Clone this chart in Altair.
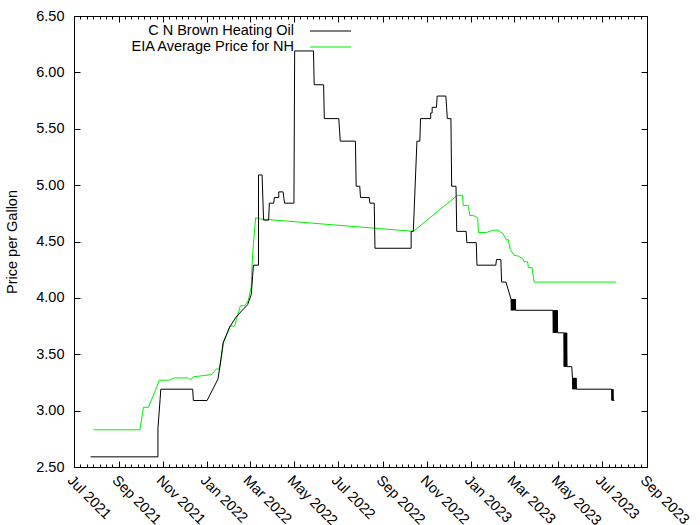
import altair as alt
import pandas as pd
import numpy as np

# ---- data ----
brown_dates = [
    "2021-07-24", "2021-10-25", "2021-10-25", "2021-10-28", "2021-10-29", "2021-12-12", "2021-12-13",
    "2022-01-01", "2022-01-16", "2022-01-20", "2022-01-23", "2022-02-01", "2022-02-10", "2022-02-26",
    "2022-03-03", "2022-03-05", "2022-03-06", "2022-03-13", "2022-03-13", "2022-03-18", "2022-03-20",
    "2022-03-27", "2022-03-28", "2022-04-03", "2022-04-04", "2022-04-10", "2022-04-10", "2022-04-16",
    "2022-04-18", "2022-05-01", "2022-05-02", "2022-05-28", "2022-05-29", "2022-06-11", "2022-06-12",
    "2022-07-02", "2022-07-04", "2022-07-25", "2022-07-26", "2022-07-31", "2022-08-01", "2022-08-13",
    "2022-08-14", "2022-08-20", "2022-08-21", "2022-10-10", "2022-10-10", "2022-10-13", "2022-10-18",
    "2022-10-22", "2022-10-23", "2022-11-06", "2022-11-06", "2022-11-08", "2022-11-08", "2022-11-14",
    "2022-11-15", "2022-11-27", "2022-11-28", "2022-11-29", "2022-12-04", "2022-12-05", "2022-12-11",
    "2022-12-12", "2022-12-25", "2022-12-26", "2023-01-08", "2023-01-09", "2023-02-04", "2023-02-05",
    "2023-02-11", "2023-02-12", "2023-02-18", "2023-02-25",
    "2023-02-25T12:00", "2023-02-26T00:00", "2023-02-26T12:00", "2023-02-27T00:00", "2023-02-27T12:00",
    "2023-02-28T00:00", "2023-02-28T12:00", "2023-03-01T00:00", "2023-03-01T12:00", "2023-03-02T00:00",
    "2023-03-02T12:00", "2023-03-03T00:00", "2023-03-03T12:00", "2023-03-04T00:00",
    "2023-04-24T00:00", "2023-04-24T12:00", "2023-04-25T00:00", "2023-04-25T12:00", "2023-04-26T00:00",
    "2023-04-26T12:00", "2023-04-27T00:00", "2023-04-27T12:00", "2023-04-28T00:00", "2023-04-28T12:00",
    "2023-04-29T00:00", "2023-04-29T12:00", "2023-04-30T00:00", "2023-04-30T12:00", "2023-05-01T00:00",
    "2023-05-09T00:00", "2023-05-09T12:00", "2023-05-10T00:00", "2023-05-10T12:00", "2023-05-11T00:00",
    "2023-05-11T12:00", "2023-05-12T00:00", "2023-05-12T12:00", "2023-05-13T00:00", "2023-05-13T12:00",
    "2023-05-20T00:00", "2023-05-21T00:00",
    "2023-05-21T12:00", "2023-05-22T00:00", "2023-05-22T12:00", "2023-05-23T00:00", "2023-05-23T12:00",
    "2023-05-24T00:00", "2023-05-24T12:00", "2023-05-25T00:00", "2023-05-25T12:00", "2023-05-26T00:00",
    "2023-05-26T12:00", "2023-05-27T00:00",
    "2023-07-14T00:00", "2023-07-14T12:00", "2023-07-15T00:00", "2023-07-15T12:00", "2023-07-16T00:00",
    "2023-07-16T12:00", "2023-07-18T00:00",
]
brown_prices = [
    2.59, 2.59, 2.84, 3.10, 3.19, 3.19, 3.09,
    3.09, 3.28, 3.45, 3.60, 3.74, 3.83, 3.94,
    4.03, 4.20, 4.29, 4.29, 5.09, 5.09, 4.69,
    4.69, 4.84, 4.84, 4.89, 4.89, 4.94, 4.94,
    4.84, 4.84, 6.19, 6.19, 5.89, 5.89, 5.59,
    5.59, 5.39, 5.39, 4.99, 4.99, 4.89, 4.89,
    4.84, 4.84, 4.44, 4.44, 4.59, 4.59, 5.39,
    5.39, 5.59, 5.59, 5.64, 5.64, 5.69, 5.69,
    5.79, 5.79, 5.69, 5.59, 5.59, 4.99, 4.99,
    4.59, 4.59, 4.49, 4.49, 4.29, 4.29, 4.34,
    4.34, 4.14, 4.14, 3.99,
    3.89, 3.99, 3.89, 3.99, 3.89,
    3.99, 3.89, 3.99, 3.89, 3.99,
    3.89, 3.99, 3.89, 3.89,
    3.89, 3.69, 3.89, 3.69, 3.89,
    3.69, 3.89, 3.69, 3.89, 3.69,
    3.89, 3.69, 3.89, 3.69, 3.69,
    3.69, 3.39, 3.69, 3.39, 3.69,
    3.39, 3.69, 3.39, 3.69, 3.39,
    3.39, 3.29,
    3.19, 3.29, 3.19, 3.29, 3.19,
    3.29, 3.19, 3.29, 3.19, 3.29,
    3.19, 3.19,
    3.19, 3.09, 3.19, 3.09, 3.19,
    3.09, 3.09,
]

eia_dates = [
    "2021-07-28", "2021-09-30", "2021-10-05", "2021-10-12", "2021-10-27", "2021-11-10", "2021-11-17",
    "2021-12-06", "2021-12-09", "2021-12-13", "2021-12-26", "2022-01-07", "2022-01-14", "2022-01-18",
    "2022-01-24", "2022-02-02", "2022-02-08", "2022-02-16", "2022-02-22", "2022-02-27", "2022-03-03",
    "2022-03-04", "2022-03-06", "2022-03-09", "2022-03-16", "2022-10-13", "2022-12-13", "2022-12-20",
    "2022-12-21", "2022-12-28", "2022-12-30", "2023-01-04", "2023-01-10", "2023-01-11", "2023-01-22",
    "2023-01-31", "2023-02-07", "2023-02-14", "2023-02-19", "2023-02-21", "2023-02-24", "2023-03-01",
    "2023-03-07", "2023-03-13", "2023-03-15", "2023-03-20", "2023-03-21", "2023-03-26", "2023-03-29",
    "2023-07-20",
]
eia_prices = [
    2.83, 2.83, 3.03, 3.03, 3.27, 3.27, 3.29,
    3.29, 3.27, 3.30, 3.31, 3.32, 3.37, 3.37,
    3.61, 3.75, 3.75, 3.93, 3.93, 3.98, 4.10,
    4.28, 4.48, 4.71, 4.70, 4.59, 4.91, 4.91,
    4.82, 4.82, 4.73, 4.73, 4.71, 4.58, 4.58,
    4.60, 4.60, 4.57, 4.51, 4.52, 4.43, 4.38,
    4.37, 4.35, 4.32, 4.32, 4.27, 4.27, 4.14,
    4.14,
]

series_names = ["C N Brown Heating Oil", "EIA Average Price for NH"]
y_ticks = [2.5, 3.0, 3.5, 4.0, 4.5, 5.0, 5.5, 6.0, 6.5]
x_major = ["2021-07-01", "2021-09-01", "2021-11-01", "2022-01-01", "2022-03-01", "2022-05-01",
           "2022-07-01", "2022-09-01", "2022-11-01", "2023-01-01", "2023-03-01", "2023-05-01",
           "2023-07-01", "2023-09-01"]

# ---- layout ----
W, H = 573, 451
FONT = "Liberation Sans"
FS = 14.5
GREEN = "#00f000"

brown = pd.DataFrame({"date": [d + ("Z" if "T" in d else "") for d in brown_dates],
                      "price": brown_prices})
brown["i"] = range(len(brown))
eia = pd.DataFrame({"date": eia_dates, "price": eia_prices})
eia["i"] = range(len(eia))

major_ms = [int(pd.Timestamp(d, tz="UTC").value // 10**6) for d in x_major]
minor_ms = []
for a, b in zip(major_ms[:-1], major_ms[1:]):
    minor_ms += [int(v) for v in np.linspace(a, b, 8)[1:-1]]

xscale = alt.Scale(type="utc", domain=[major_ms[0], major_ms[-1]])
yscale = alt.Scale(domain=[2.5, 6.5], nice=False, zero=False)


def xaxis(**kw):
    base = dict(grid=False, domain=False, labels=False, title=None, tickColor="#000",
                tickWidth=1, values=major_ms, tickSize=6)
    base.update(kw)
    return alt.Axis(**base)


def yaxis(**kw):
    base = dict(grid=False, domain=False, labels=False, title=None, tickColor="#000",
                tickWidth=1, values=y_ticks, tickSize=6)
    base.update(kw)
    return alt.Axis(**base)


# main black line with labelled axes
l_brown = alt.Chart(brown).mark_line(color="#000000", strokeWidth=1).encode(
    x=alt.X("date:T", scale=xscale,
            axis=alt.Axis(grid=False, domain=False, ticks=False, values=major_ms, title=None,
                          labelAngle=45, labelAlign="left", labelBaseline="top", labelPadding=6,
                          labelExpr="utcFormat(datum.value, '%b %Y')", labelFont=FONT,
                          labelFontSize=FS, labelColor="#000", labelOverlap=False,
                          labelBound=False, labelFlush=False)),
    y=alt.Y("price:Q", scale=yscale,
            axis=alt.Axis(grid=False, domain=False, ticks=False, values=y_ticks, format=".2f",
                          labelFont=FONT, labelFontSize=FS, labelColor="#000", labelPadding=10,
                          title="Price per Gallon", titleFont=FONT, titleFontSize=FS,
                          titleFontWeight="normal", titleColor="#000", titleX=-62, titleY=H / 2,
                          titleAngle=-90, titleBaseline="middle", titleAlign="center")),
    order=alt.Order("i:Q"),
)

l_eia = alt.Chart(eia).mark_line(color=GREEN, strokeWidth=1).encode(
    x=alt.X("date:T", scale=xscale, axis=xaxis(orient="top", offset=-H)),
    y=alt.Y("price:Q", scale=yscale, axis=yaxis(orient="right", offset=-W)),
    order=alt.Order("i:Q"),
)

dummy = alt.Chart(eia).mark_line(strokeOpacity=0, color="#fff")
l_d1 = dummy.encode(
    x=alt.X("date:T", scale=xscale, axis=xaxis(orient="bottom", offset=-H)),
    y=alt.Y("price:Q", scale=yscale, axis=yaxis(orient="left", offset=-W)),
)
l_d2 = dummy.encode(
    x=alt.X("date:T", scale=xscale, axis=xaxis(orient="top", offset=-H, values=minor_ms, tickSize=3)),
    y=alt.Y("price:Q", scale=yscale, axis=None),
)
l_d3 = dummy.encode(
    x=alt.X("date:T", scale=xscale, axis=xaxis(orient="bottom", offset=-H, values=minor_ms, tickSize=3)),
    y=alt.Y("price:Q", scale=yscale, axis=None),
)

one = alt.Data(values=[{}])
leg_text1 = alt.Chart(one).mark_text(align="right", baseline="middle", font=FONT, fontSize=FS,
                                     color="#000").encode(
    x=alt.value(220), y=alt.value(15), text=alt.value(series_names[0]))
leg_text2 = alt.Chart(one).mark_text(align="right", baseline="middle", font=FONT, fontSize=FS,
                                     color="#000").encode(
    x=alt.value(220), y=alt.value(31), text=alt.value(series_names[1]))
leg_rule1 = alt.Chart(one).mark_rule(color="#000000", strokeWidth=1).encode(
    x=alt.value(236), x2=alt.value(277), y=alt.value(15))
leg_rule2 = alt.Chart(one).mark_rule(color=GREEN, strokeWidth=1).encode(
    x=alt.value(236), x2=alt.value(277), y=alt.value(31))

chart = alt.layer(
    l_d1, l_d2, l_d3, l_eia, l_brown, leg_text1, leg_text2, leg_rule1, leg_rule2
).resolve_axis(x="independent", y="independent").properties(
    width=W, height=H,
    autosize=alt.AutoSizeParams(type="none"),
    padding={"left": 74, "top": 16, "right": 53, "bottom": 58},
    background="white",
).configure_view(stroke="#000", strokeWidth=1)

chart.save("out.html", embed_options={"renderer": "svg", "actions": False})
